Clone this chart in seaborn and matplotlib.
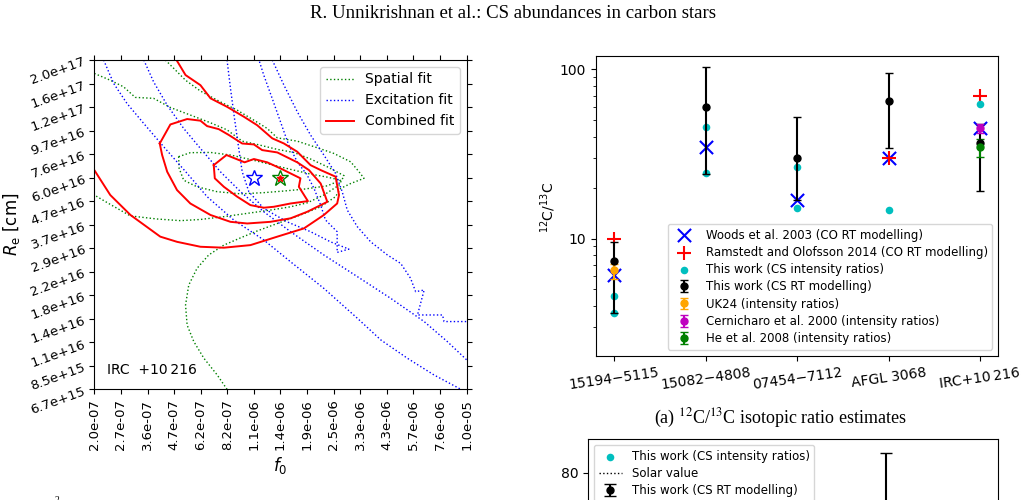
import matplotlib
matplotlib.use('Agg')
import matplotlib.pyplot as plt
from matplotlib.ticker import ScalarFormatter, NullFormatter
from matplotlib.lines import Line2D
import seaborn as sns

# ---------------- left panel: contours on the (f0, Re) grid (grid-index units) ----------------
f0_labels = ['2.0e-07', '2.7e-07', '3.6e-07', '4.7e-07', '6.2e-07', '8.2e-07', '1.1e-06', '1.4e-06',
             '1.9e-06', '2.5e-06', '3.3e-06', '4.3e-06', '5.7e-06', '7.6e-06', '1.0e-05']
re_labels = ['6.7e+15', '8.5e+15', '1.1e+16', '1.4e+16', '1.8e+16', '2.2e+16', '2.9e+16', '3.7e+16',
             '4.7e+16', '6.0e+16', '7.6e+16', '9.7e+16', '1.2e+17', '1.6e+17', '2.0e+17']

# combined fit (red, solid)
comb1_x = [4.49, 4.97, 5.65, 6.00, 6.50, 7.00, 7.75, 7.69, 8.03, 7.38, 6.75, 6.37, 5.87, 5.37, 4.87, 4.53, 4.49]
comb1_y = [9.53, 9.96, 9.65, 9.79, 9.65, 9.39, 8.97, 8.61, 8.00, 7.90, 7.76, 7.72, 7.83, 8.19, 8.61, 8.97, 9.53]
comb2_x = [2.46, 2.86, 3.49, 3.99, 4.24, 4.68, 5.06, 5.56, 6.00, 6.31, 6.88, 7.63, 8.07, 8.51, 8.76, 8.01,
           7.38, 6.62, 5.75, 5.12, 4.37, 3.61, 3.11, 2.74, 2.55, 2.46]
comb2_y = [10.45, 11.26, 11.49, 11.42, 11.19, 11.06, 10.81, 10.45, 10.41, 10.17, 10.07, 9.65, 9.32, 8.75, 7.97,
           7.55, 7.27, 7.12, 7.05, 7.12, 7.41, 7.90, 8.47, 9.25, 9.96, 10.45]
comb3_x = [3.09, 3.43, 3.99, 4.37, 4.99, 5.62, 6.12, 6.69, 7.13, 7.63, 8.13, 8.51, 9.07, 9.20, 9.13, 8.63,
           7.88, 6.88, 5.87, 4.87, 3.99, 3.11, 2.48, 1.36, 0.60, 0.0]
comb3_y = [14.0, 13.36, 12.93, 12.37, 12.01, 11.59, 11.23, 10.67, 10.45, 10.10, 9.53, 9.32, 9.04, 8.26, 7.90,
           7.41, 6.84, 6.49, 6.13, 6.02, 6.06, 6.27, 6.49, 7.41, 8.26, 9.32]

# spatial fit (green, dotted)
spat1_x = [3.17, 3.61, 4.37, 5.12, 5.87, 6.62, 7.38, 8.13, 8.76, 9.26, 8.76, 7.88, 7.13, 6.37, 5.50, 4.62,
           3.86, 3.36, 3.19, 3.17]
spat1_y = [9.89, 10.06, 10.07, 9.96, 9.77, 9.56, 9.35, 9.15, 9.02, 8.89, 8.65, 8.51, 8.43, 8.36, 8.31, 8.40,
           8.61, 8.89, 9.39, 9.89]
spat2_x = [0.0, 0.60, 1.10, 1.54, 2.23, 2.86, 3.61, 4.37, 4.99, 5.56, 6.12, 6.88, 7.50, 8.13, 8.76, 9.39,
           9.20, 8.63, 8.01, 7.38, 6.62, 5.75, 4.87, 3.99, 3.24, 2.36, 1.36, 0.60, 0.0]
spat2_y = [13.43, 13.14, 12.86, 12.41, 12.37, 11.98, 11.66, 11.33, 11.03, 10.55, 10.41, 10.20, 10.07, 9.79,
           9.46, 9.08, 8.68, 8.26, 7.93, 7.76, 7.62, 7.48, 7.34, 7.22, 7.17, 7.24, 7.37, 7.86, 8.26]
spat3_x = [2.67, 2.99, 3.43, 3.99, 4.74, 5.37, 6.00, 6.50, 6.88, 7.63, 8.38, 9.00, 9.64, 9.95, 10.14, 9.64,
           9.26, 9.07, 8.51, 7.75, 6.88, 6.12, 5.50, 4.87, 4.30, 3.86, 3.55, 3.43, 3.49, 3.74, 4.12, 4.62, 4.99]
spat3_y = [14.0, 13.64, 13.14, 12.68, 12.22, 11.87, 11.44, 11.09, 10.69, 10.55, 10.27, 10.03, 9.67, 9.25, 8.97,
           8.75, 8.54, 8.19, 7.76, 7.41, 7.05, 6.73, 6.44, 6.13, 5.71, 5.14, 4.43, 3.58, 2.73, 2.03, 1.32, 0.61, 0.0]

# excitation fit (blue, dotted)
exc1_x = [4.99, 5.12, 5.27, 5.43, 5.56, 5.81, 6.37, 7.25, 8.13, 8.88, 9.57, 9.13, 9.13, 8.69, 8.51, 8.26,
          8.00, 7.63, 7.31, 7.00, 6.69, 6.37, 6.19]
exc1_y = [14.0, 12.79, 11.52, 10.24, 9.25, 8.40, 7.69, 7.12, 6.70, 6.27, 5.96, 5.82, 6.70, 7.20, 7.83, 8.54,
          9.11, 9.67, 10.38, 11.37, 12.36, 13.36, 14.0]
exc2_x = [1.86, 2.23, 2.74, 3.36, 3.99, 4.74, 5.50, 6.37, 7.38, 8.63, 9.89, 11.14, 12.40, 13.27, 14.0]
exc2_y = [14.0, 13.07, 12.08, 11.09, 10.24, 9.25, 8.40, 7.55, 6.70, 5.71, 4.79, 3.87, 2.88, 2.03, 1.25]
exc3_x = [6.69, 7.13, 7.63, 8.13, 8.63, 9.07, 9.32, 9.51, 9.89, 10.39, 11.02, 11.52, 11.89, 12.08, 12.40,
          12.15, 13.09, 13.15, 14.0]
exc3_y = [14.0, 12.93, 11.80, 10.81, 9.96, 9.18, 8.40, 7.62, 6.91, 6.27, 5.71, 5.35, 4.72, 4.15, 4.22,
          3.16, 3.16, 2.88, 2.88]
exc4_x = [0.35, 0.73, 1.23, 1.86, 2.61, 3.49, 4.24, 5.24, 6.37, 7.38, 8.63, 9.89, 10.77, 11.77, 12.77, 13.78]
exc4_y = [14.0, 13.00, 12.15, 11.30, 10.31, 9.18, 8.19, 7.20, 6.35, 5.42, 4.29, 3.02, 2.10, 1.32, 0.61, 0.0]

best_exc = (6, 9)
best_spatial = (7, 9)
best_comb = (7, 9)

# ---------------- right panel: 12C/13C estimates ----------------
sources = ['15194\u22125115', '15082\u22124808', '07454\u22127112', 'AFGL 3068', 'IRC+10\u2009216']
woods_x = [0, 1, 2, 3, 4]
woods_y = [6.1, 35, 17, 30, 45]
ramstedt_x = [0, 3, 4]
ramstedt_y = [10, 30, 70]
csint_x = [0, 0, 1, 1, 2, 2, 3, 4]
csint_y = [4.6, 3.65, 45.6, 24.3, 26.5, 15.2, 14.8, 62.7]
rt_x = [0, 1, 2, 3, 4]
rt_y = [7.4, 59.7, 29.9, 64.7, 36.7]
rt_lo = [3.63, 24.1, 16.9, 34.2, 19.1]
rt_hi = [9.6, 102.8, 52.1, 94.6, 47.5]
uk24_x, uk24_y, uk24_lo, uk24_hi = [0], [6.5], [5.8], [7.1]
cern_x, cern_y, cern_lo, cern_hi = [4], [45], [42.2], [47.6]
he_x, he_y, he_lo, he_hi = [4], [34.7], [30.3], [38.8]

# lower panel (mostly cut off by the page crop)
low_csint_x = [3]
low_csint_y = [30]
low_rt_x, low_rt_y, low_rt_lo, low_rt_hi = [3], [45], [20], [88.6]
solar_value = 22.5

fig = plt.figure(figsize=(10.25, 5.0), dpi=100)

# ---------------- left panel ----------------
ax1 = fig.add_axes([94.3 / 1025, 1 - 389.3 / 500, 372.4 / 1025, 329.3 / 500])
for xs, ys in [(spat1_x, spat1_y), (spat2_x, spat2_y), (spat3_x, spat3_y)]:
    sns.lineplot(x=xs, y=ys, sort=False, estimator=None, color='green', linestyle=':', linewidth=1.0, ax=ax1)
for xs, ys in [(exc1_x, exc1_y), (exc2_x, exc2_y), (exc3_x, exc3_y), (exc4_x, exc4_y)]:
    sns.lineplot(x=xs, y=ys, sort=False, estimator=None, color='blue', linestyle=':', linewidth=1.0, ax=ax1)
for xs, ys in [(comb1_x, comb1_y), (comb2_x, comb2_y), (comb3_x, comb3_y)]:
    sns.lineplot(x=xs, y=ys, sort=False, estimator=None, color='red', linestyle='-', linewidth=1.4, ax=ax1)

ax1.plot(*best_exc, marker='*', ms=12, mfc='none', mec='blue', mew=1.0, ls='none')
ax1.plot(*best_spatial, marker='*', ms=12, mfc='none', mec='green', mew=1.0, ls='none')
ax1.plot(*best_comb, marker='*', ms=5, color='red', ls='none')

ax1.set_xlim(0, 14)
ax1.set_ylim(0, 14)
ax1.set_xticks(range(15))
ax1.set_xticklabels(f0_labels, rotation=90, fontsize=9.5)
ax1.set_yticks(range(15))
ax1.set_yticklabels(re_labels, fontsize=9.5)
plt.setp(ax1.get_yticklabels(), rotation=20, rotation_mode='anchor', ha='right')
ax1.tick_params(top=True, right=True)
ax1.set_xlabel(r'$f_0$', fontsize=12)
ax1.set_ylabel(r'$R_\mathrm{e}$ [cm]', fontsize=12)
ax1.xaxis.set_label_coords(0.5, -0.20)
ax1.yaxis.set_label_coords(-0.194, 0.5)
ax1.text(0.034, 0.0586, 'IRC  +10\u2009216', transform=ax1.transAxes, fontsize=10, va='center')

leg_handles = [Line2D([], [], color='green', ls=':', lw=1.0),
               Line2D([], [], color='blue', ls=':', lw=1.0),
               Line2D([], [], color='red', ls='-', lw=1.4)]
ax1.legend(leg_handles, ['Spatial fit', 'Excitation fit', 'Combined fit'], loc='upper right', fontsize=10)

# ---------------- right panel ----------------
ax2 = fig.add_axes([595.7 / 1025, 1 - 355.7 / 500, 402.6 / 1025, 299.7 / 500])
sns.scatterplot(x=woods_x, y=woods_y, marker='x', s=90, color='blue', linewidth=1.5,
                label='Woods et al. 2003 (CO RT modelling)', ax=ax2, legend=False)
sns.scatterplot(x=ramstedt_x, y=ramstedt_y, marker='+', s=110, color='red', linewidth=1.5,
                label='Ramstedt and Olofsson 2014 (CO RT modelling)', ax=ax2, legend=False)
sns.scatterplot(x=csint_x, y=csint_y, marker='o', s=30, color='c', linewidth=0,
                label='This work (CS intensity ratios)', ax=ax2, legend=False)


def asym(y, lo, hi):
    return [[a - b for a, b in zip(y, lo)], [b - a for a, b in zip(y, hi)]]


ax2.errorbar(rt_x, rt_y, yerr=asym(rt_y, rt_lo, rt_hi), fmt='o', color='black', ms=5, capsize=3,
             label='This work (CS RT modelling)')
ax2.errorbar(uk24_x, uk24_y, yerr=asym(uk24_y, uk24_lo, uk24_hi), fmt='o', color='orange', ms=5, capsize=3,
             label='UK24 (intensity ratios)')
ax2.errorbar(cern_x, cern_y, yerr=asym(cern_y, cern_lo, cern_hi), fmt='o', color='m', ms=5, capsize=3,
             label='Cernicharo et al. 2000 (intensity ratios)')
ax2.errorbar(he_x, he_y, yerr=asym(he_y, he_lo, he_hi), fmt='o', color='green', ms=5, capsize=3,
             label='He et al. 2008 (intensity ratios)')

ax2.set_yscale('log')
ax2.set_ylim(2.03, 120)
ax2.set_xlim(-0.2, 4.2)
ax2.yaxis.set_major_formatter(ScalarFormatter())
ax2.yaxis.set_minor_formatter(NullFormatter())
ax2.set_xticks(range(len(sources)))
ax2.set_xticklabels(sources, rotation=8, fontsize=10)
ax2.tick_params(axis='y', labelsize=10)
ax2.set_ylabel(r'$^{12}$C/$^{13}$C', fontsize=10)
ax2.yaxis.set_label_coords(-0.094, 0.496)
ax2.legend(loc='lower right', fontsize=8.5, labelspacing=0.36)

# ---------------- lower right panel (cut by the page crop) ----------------
ax3 = fig.add_axes([588 / 1025, 1 - 652.4 / 500, 409.7 / 1025, 213.4 / 500])
sns.scatterplot(x=low_csint_x, y=low_csint_y, marker='o', s=30, color='c', linewidth=0,
                label='This work (CS intensity ratios)', ax=ax3, legend=False)
ax3.axhline(solar_value, color='black', ls=':', lw=1.0, label='Solar value')
ax3.errorbar(low_rt_x, low_rt_y, yerr=asym(low_rt_y, low_rt_lo, low_rt_hi), fmt='o', color='black', ms=5,
             capsize=4.5, label='This work (CS RT modelling)')
ax3.set_xlim(-0.2, 4.2)
ax3.set_ylim(0, 95)
ax3.tick_params(axis='y', labelsize=10)
ax3.legend(loc='upper left', fontsize=8.5, labelspacing=0.36)

# ---------------- page text ----------------
fig.text(0.5, 1 - 14 / 500, 'R. Unnikrishnan et al.: CS abundances in carbon stars',
         ha='center', va='center', fontsize=13.5, family='Liberation Serif')
fig.text(780 / 1025, 1 - 418 / 500, r'(a) $^{12}$C/$^{13}$C isotopic ratio estimates',
         ha='center', va='center', fontsize=13, family='Liberation Serif', math_fontfamily='stix')
fig.text(57 / 1025, -3 / 500, '2', ha='center', va='baseline', fontsize=7, family='Liberation Serif')

fig.savefig('out.png', dpi=100)
